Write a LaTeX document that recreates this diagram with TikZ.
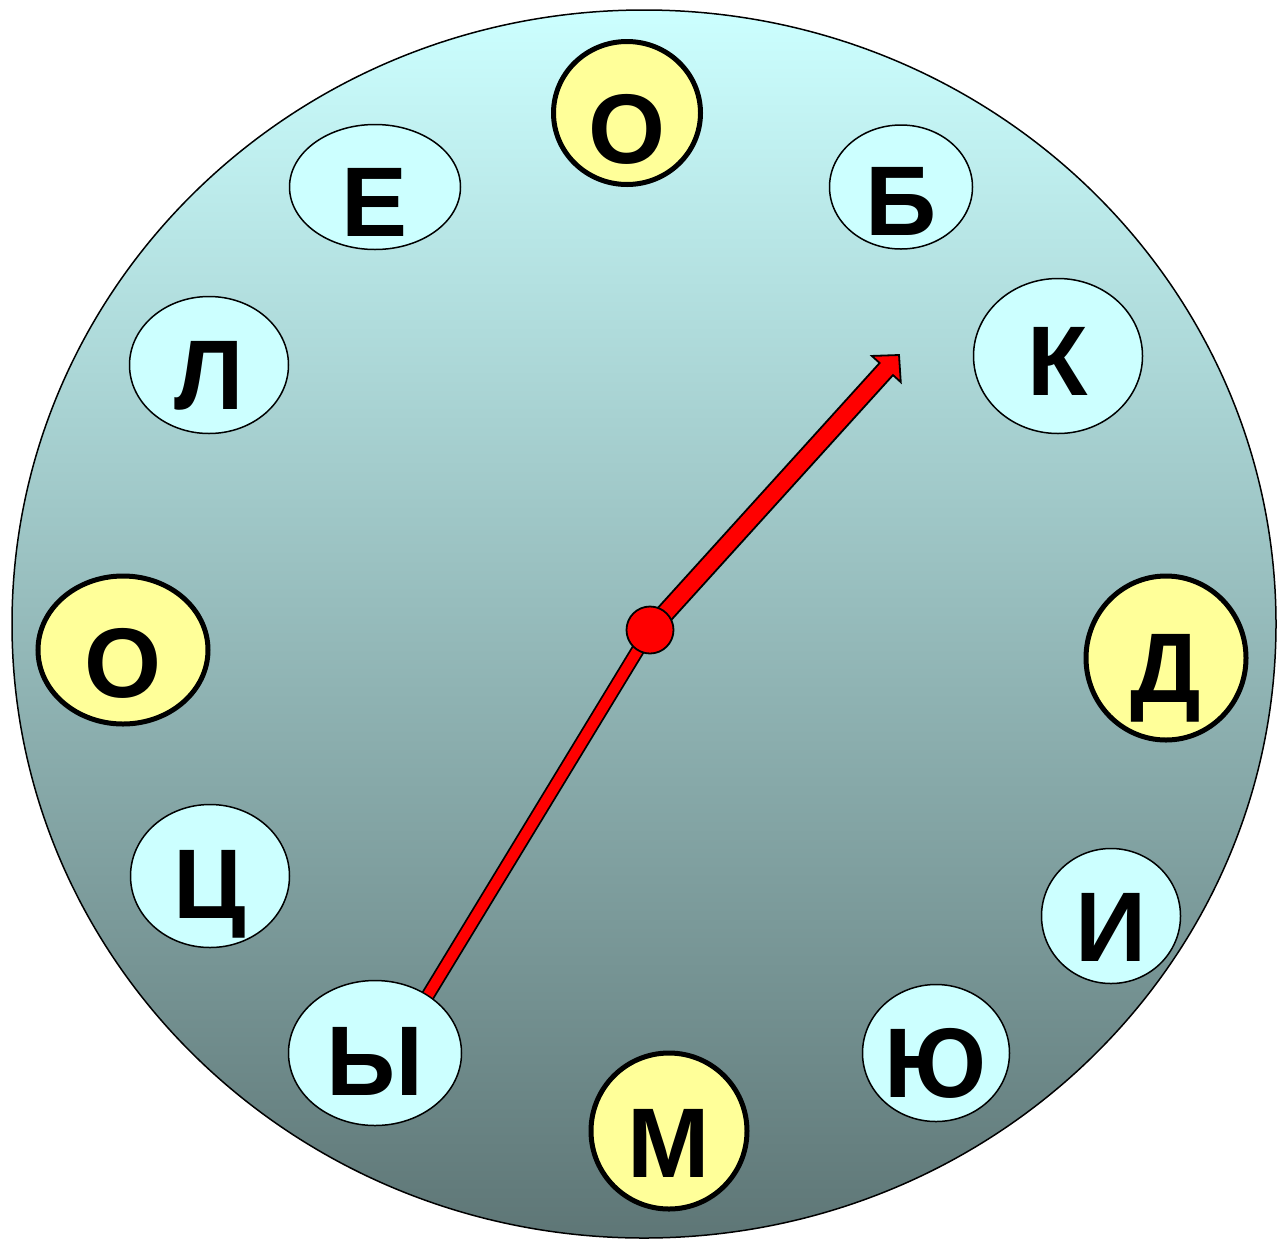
\documentclass[tikz,border=0pt]{standalone}
\usepackage{fontspec}
\setmainfont{Liberation Sans}
\usetikzlibrary{shapes.geometric,calc}
\definecolor{facetop}{HTML}{CCFFFF}
\definecolor{facebot}{HTML}{5E7676}
\definecolor{lcyan}{HTML}{CCFFFF}
\definecolor{lyellow}{HTML}{FFFF99}
\tikzset{
  plain/.style={ellipse, draw=black, line width=1.5pt, fill=lcyan, inner sep=0pt},
  marked/.style={ellipse, draw=black, line width=5pt, fill=lyellow, inner sep=0pt},
  letter/.style={anchor=base, inner sep=0pt, font=\fontsize{99}{99}\selectfont\bfseries},
  handfill/.style={fill=red, draw=black, line width=1.8pt, line join=miter},
}
\begin{document}
\begin{tikzpicture}[x=1pt,y=-1pt]
\useasboundingbox (0,0) rectangle (1282,1240);
% clock face
\shade[top color=facetop, bottom color=facebot] (644,624) ellipse [x radius=632, y radius=614];
\draw[line width=1.5pt] (644,624) ellipse [x radius=632, y radius=614];
% hands
\coordinate (hub) at (650,630);
\coordinate (ktip) at (899,355);
\coordinate (yic) at (375,1053);
\coordinate (yend) at (419,1010);
\draw[black, line width=14pt] (hub) -- (yend);
\draw[red, line width=10.4pt] (hub) -- (yend);
\coordinate (kbase) at ($(hub)!0.949!(ktip)$);
\filldraw[handfill] ($(hub)!9pt!90:(ktip)$) -- ($(kbase)!9pt!90:(ktip)$) -- ($(kbase)!19.5pt!90:(ktip)$) -- (ktip) -- ($(kbase)!19.5pt!-90:(ktip)$) -- ($(kbase)!9pt!-90:(ktip)$) -- ($(hub)!9pt!-90:(ktip)$) -- cycle;
\node[circle, fill=red, draw=black, line width=1.8pt, minimum size=47pt, inner sep=0pt] (hubdot) at (hub) {};
% letters
\node[marked, minimum width=147pt, minimum height=143pt] (o1) at (627,113) {};
\node[letter] (to1) at ([yshift=-50pt]o1.center) {О};
\node[plain, minimum width=171pt, minimum height=125pt] (e) at (375,187) {};
\node[letter] (te) at ([yshift=-49pt]e.center) {Е};
\node[plain, minimum width=143pt, minimum height=124pt] (b) at (901,187) {};
\node[letter] (tb) at ([yshift=-48pt]b.center) {Б};
\node[plain, minimum width=169pt, minimum height=155pt] (k) at (1058,356) {};
\node[letter] (tk) at ([yshift=-39pt]k.center) {К};
\node[plain, minimum width=159pt, minimum height=137pt] (l) at (209,365) {};
\node[letter] (tl) at ([yshift=-44pt]l.center) {Л};
\node[marked, minimum width=170pt, minimum height=148pt] (o2) at (123,650) {};
\node[letter] (to2) at ([yshift=-47pt]o2.center) {О};
\node[marked, minimum width=160pt, minimum height=164pt] (d) at (1166,658) {};
\node[letter] (td) at ([yshift=-44pt]d.center) {Д};
\node[plain, minimum width=159pt, minimum height=143pt] (c) at (210,876) {};
\node[letter] (tc) at ([yshift=-42pt]c.center) {Ц};
\node[plain, minimum width=139pt, minimum height=135pt] (i) at (1111,916) {};
\node[letter] (ti) at ([yshift=-45pt]i.center) {И};
\node[plain, minimum width=173pt, minimum height=145pt] (yi) at (yic) {};
\node[letter] (tyi) at ([yshift=-42pt]yi.center) {Ы};
\node[plain, minimum width=147pt, minimum height=137pt] (yu) at (936,1053) {};
\node[letter] (tyu) at ([yshift=-44pt]yu.center) {Ю};
\node[marked, minimum width=156pt, minimum height=156pt] (m) at (669,1131) {};
\node[letter] (tm) at ([yshift=-46pt]m.center) {М};
\end{tikzpicture}
\end{document}
